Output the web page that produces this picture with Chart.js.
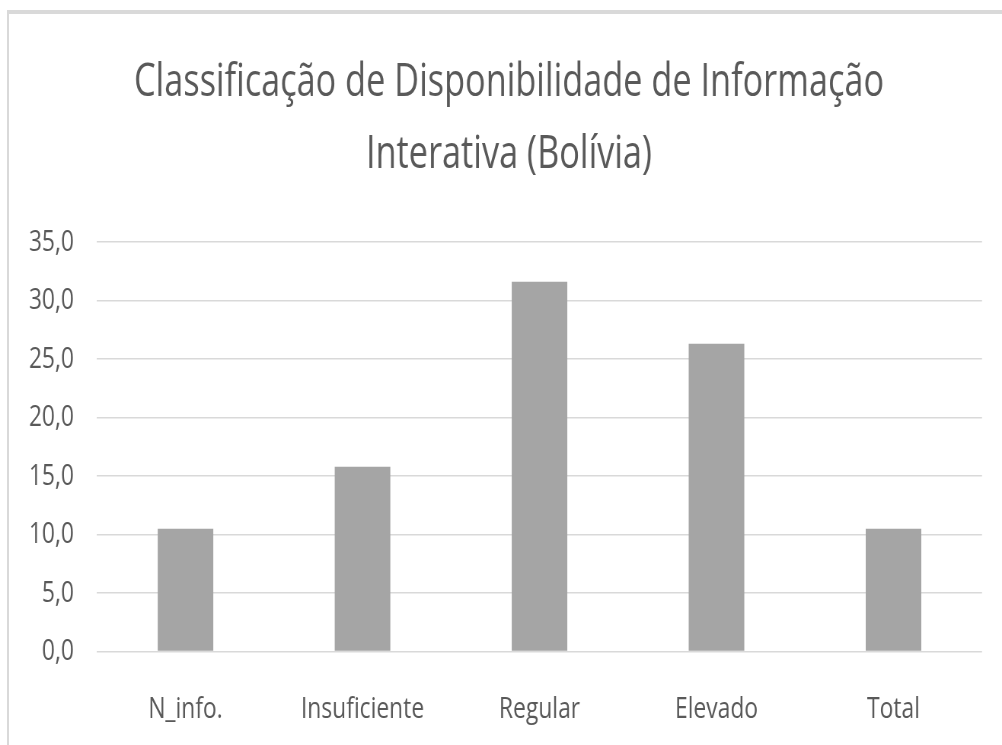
<!DOCTYPE html>
<html><head><meta charset="utf-8">
<script src="https://cdn.jsdelivr.net/npm/chart.js@4.4.0/dist/chart.umd.min.js"></script>
<style>
html,body{margin:0;padding:0;background:#fff;overflow:hidden;width:1002px;height:745px}
#frame{position:absolute;left:7px;top:10px;width:1100px;height:800px;border-top:4px solid #d9d9d9;border-left:2px solid #d9d9d9;box-sizing:border-box;pointer-events:none}
#wrap{position:absolute;left:0;top:0;height:745px;transform-origin:0 0}
</style></head><body>
<div id="wrap"><canvas id="c"></canvas></div>
<div id="frame"></div>
<script>
const categories = ['N_info.', 'Insuficiente', 'Regular', 'Elevado', 'Total'];
const values = [10.5, 15.8, 31.6, 26.3, 10.5];
const titleLines = ['Classificação de Disponibilidade de Informação', 'Interativa (Bolívia)'];
const yMin = 0, yMax = 35, yStep = 5;

const FONT = '"Open Sans", "Liberation Sans", sans-serif';
const m = document.createElement('canvas').getContext('2d');
m.font = '400 45px ' + FONT;
const s = 750 / m.measureText(titleLines[0]).width;
const W = 1002 / s;
const wrap = document.getElementById('wrap');
wrap.style.width = W + 'px';
wrap.style.transform = 'scaleX(' + s + ')';

new Chart(document.getElementById('c'), {
  type: 'bar',
  data: {
    labels: categories,
    datasets: [{ data: values, backgroundColor: '#a5a5a5', barPercentage: 0.314, categoryPercentage: 1 }]
  },
  options: {
    responsive: true, maintainAspectRatio: false, animation: false,
    layout: { padding: { left: 36 / s, right: 20 / s, top: 0, bottom: 0 } },
    plugins: {
      legend: { display: false }, tooltip: { enabled: false },
      title: { display: true, text: titleLines, color: '#595959',
        font: { family: FONT, size: 45, weight: '400', lineHeight: 1.6 },
        padding: { top: 47, bottom: 51 } }
    },
    scales: {
      x: { grid: { display: false }, border: { display: false },
        ticks: { color: '#595959', font: { family: FONT, size: 30 }, padding: 31.5, maxRotation: 0, autoSkip: false },
        afterFit: (sc) => { sc.height = 93.5; } },
      y: { min: yMin, max: yMax,
        ticks: { stepSize: yStep, color: '#595959', font: { family: FONT, size: 30 }, padding: 23 / s,
          callback: v => Number(v).toFixed(1).replace('.', ',') },
        grid: { color: '#d9d9d9', lineWidth: 1.5, drawTicks: false }, border: { display: false },
        afterFit: (sc) => { sc.width = 61 / s; sc._computeLabelArea = () => undefined; } }
    }
  }
});
</script>
</body></html>
